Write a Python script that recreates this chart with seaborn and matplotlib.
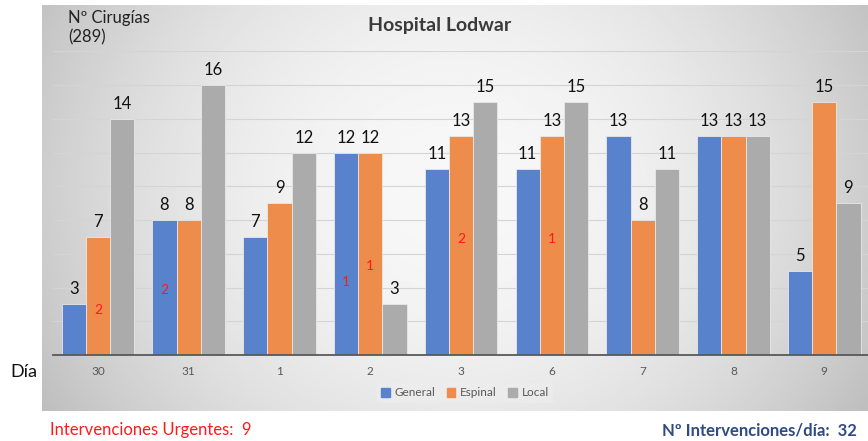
import numpy as np
import pandas as pd
import matplotlib
matplotlib.use('Agg')
import matplotlib.pyplot as plt
import seaborn as sns

# data
dias = ['30', '31', '1', '2', '3', '6', '7', '8', '9']
tipos = ['General', 'Espinal', 'Local']
general = [3, 8, 7, 12, 11, 11, 13, 13, 5]
espinal = [7, 8, 9, 12, 13, 13, 8, 13, 15]
local = [14, 16, 12, 3, 15, 15, 11, 13, 9]

# urgent interventions: (day, type, count)
urgentes = [('30', 'Espinal', 2), ('31', 'General', 2), ('2', 'General', 1),
            ('2', 'Espinal', 1), ('3', 'Espinal', 2), ('6', 'Espinal', 1)]
# label height for each urgent mark, as fraction of its bar
urgentes_pos = [0.38, 0.48, 0.36, 0.44, 0.53, 0.53]

colores = ['#5882cc', '#ee8c4c', '#ababab']

df = pd.DataFrame({'Dia': dias * 3,
                   'Tipo': [t for t in tipos for _ in dias],
                   'N': general + espinal + local})

sns.set_theme(style='white')
plt.rcParams['font.family'] = ['Lato', 'DejaVu Sans']

fig = plt.figure(figsize=(8.68, 4.41), dpi=100)
fig.patch.set_facecolor('white')

# grey gradient panel behind the chart
bg = fig.add_axes([42 / 868, 30 / 441, 826 / 868, 406 / 441], zorder=0)
yy, xx = np.mgrid[0:1:200j, 0:1:400j]
r2 = ((xx - 0.5) / 0.55) ** 2 + ((yy - 0.45) / 1.0) ** 2
grad = np.clip(0.97 - 0.2 * r2, 0, 1)
bg.imshow(grad, cmap='gray', vmin=0, vmax=1, aspect='auto', extent=[0, 1, 0, 1])
bg.set_axis_off()

ax = fig.add_axes([52.6 / 868, 86 / 441, 817 / 868, 303.75 / 441], zorder=1)
ax.set_facecolor('none')
sns.barplot(data=df, x='Dia', y='N', hue='Tipo', hue_order=tipos, order=dias,
            palette=colores, saturation=1, width=0.8, edgecolor='#e8e8e8',
            linewidth=0.6, ax=ax, legend=False)

for c in ax.containers:
    ax.bar_label(c, fontsize=12, color='#111111', padding=5)

# red labels for urgent interventions
for (d, t, n), f in zip(urgentes, urgentes_pos):
    c = ax.containers[tipos.index(t)]
    bar = c.patches[dias.index(d)]
    ax.text(bar.get_x() + bar.get_width() / 2, bar.get_height() * f, str(n),
            color='#ff1a1a', fontsize=10, ha='center', va='center')

ax.set_ylim(0, 18)
ax.set_xlim(-0.5, 8.5)
ax.set_yticks(np.arange(0, 19, 2))
ax.yaxis.grid(True, color='#d4d4d4', linewidth=0.8)
ax.set_axisbelow(True)
ax.tick_params(axis='y', left=False, labelleft=False)
ax.tick_params(axis='x', length=0, labelsize=8.5, labelcolor='#595959', pad=8)
ax.set_xlabel('')
ax.set_ylabel('')
for s in ['top', 'right', 'left']:
    ax.spines[s].set_visible(False)
ax.spines['bottom'].set_color('#595959')
ax.spines['bottom'].set_linewidth(1.3)

handles = [plt.Rectangle((0, 0), 1, 1, color=c) for c in colores]
leg = fig.legend(handles, tipos, loc='center', bbox_to_anchor=(465 / 868, 1 - 393 / 441),
                 ncol=3, frameon=True, fontsize=8.5, handlelength=0.7, handleheight=0.7,
                 handletextpad=0.4, columnspacing=1.0, borderpad=0.4)
leg.get_frame().set_facecolor('#eeeeee')
leg.get_frame().set_edgecolor('none')
leg.get_frame().set_alpha(0.6)
for t in leg.get_texts():
    t.set_color('#595959')

fig.text(440 / 868, 1 - 25 / 441, 'Hospital Lodwar', ha='center', va='center',
         fontsize=14, fontweight='bold', color='#3a3a3a')
fig.text(68 / 868, 1 - 28 / 441, 'Nº Cirugías\n(289)', ha='left', va='center',
         fontsize=12, color='#222222', linespacing=1.25)
fig.text(10 / 868, 1 - 372 / 441, 'Día', ha='left', va='center', fontsize=13, color='#111111')
fig.text(50 / 868, 1 - 430 / 441, 'Intervenciones Urgentes:  9', ha='left', va='center',
         fontsize=12, color='#ff1a1a')
fig.text(857 / 868, 1 - 430 / 441, 'Nº Intervenciones/día:  32', ha='right', va='center',
         fontsize=12, fontweight='bold', color='#2f4a84')

fig.savefig('out.png', dpi=100)
